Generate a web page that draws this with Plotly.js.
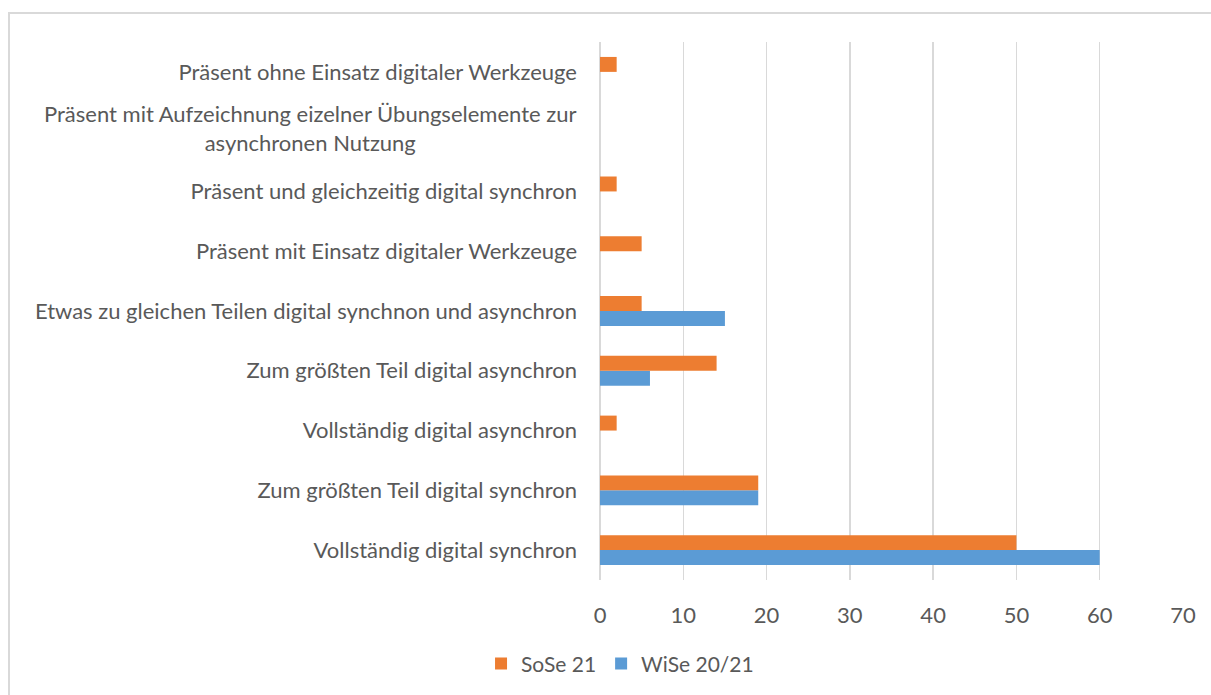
<!DOCTYPE html>
<html>
<head>
<meta charset="utf-8">
<script src="https://cdn.plot.ly/plotly-3.0.1.min.js"></script>
<style>
  html, body { margin: 0; padding: 0; background: #fff; }
  #frame { position: absolute; left: 8px; top: 12px; width: 1260px; height: 760px; border: 2px solid #d9d9d9; box-sizing: border-box; }
  #chart { position: absolute; left: 0; top: 0; width: 1211px; height: 695px; }
</style>
</head>
<body>
<div id="frame"></div>
<div id="chart"></div>
<script>
const categories = [
  "Vollständig digital synchron",
  "Zum größten Teil digital synchron",
  "Vollständig digital asynchron",
  "Zum größten Teil digital asynchron",
  "Etwas zu gleichen Teilen digital synchnon und asynchron",
  "Präsent mit Einsatz digitaler Werkzeuge",
  "Präsent und gleichzeitig digital synchron",
  "Präsent mit Aufzeichnung eizelner Übungselemente zur asynchronen Nutzung",
  "Präsent ohne Einsatz digitaler Werkzeuge"
];
// label lines as shown in the chart (the long one wraps onto two centred lines)
const wrappedLabel = "Präsent mit Aufzeichnung eizelner Übungselemente zur<br>asynchronen Nutzung";
const wrappedIndex = 7;
const sose21 = [50, 19, 2, 14, 5, 5, 2, 0, 2];
const wise2021 = [60, 19, 0, 6, 15, 0, 0, 0, 0];
const xTicks = [0, 10, 20, 30, 40, 50, 60, 70];

const font = "Lato, 'Open Sans', sans-serif";
const grey = "#595959";
const fsize = 22;

const tickText = categories.map((c, i) => i === wrappedIndex ? "" : c);

const data = [
  { type: "bar", orientation: "h", name: "WiSe 20/21", y: categories, x: wise2021,
    marker: { color: "#5B9BD5" }, hoverinfo: "x+name" },
  { type: "bar", orientation: "h", name: "SoSe 21", y: categories, x: sose21,
    marker: { color: "#ED7D31" }, hoverinfo: "x+name" }
];

const layout = {
  width: 1211, height: 695,
  paper_bgcolor: "rgba(0,0,0,0)", plot_bgcolor: "rgba(0,0,0,0)",
  margin: { l: 600, r: 28, t: 42, b: 115 },
  barmode: "group", bargap: 0.5, bargroupgap: 0,
  font: { family: font, size: fsize, color: grey },
  xaxis: {
    range: [0, 70], tickvals: xTicks, ticktext: xTicks.map(String),
    showgrid: true, gridcolor: "#d9d9d9", gridwidth: 1.5,
    zeroline: true, zerolinecolor: "#d9d9d9", zerolinewidth: 1.5,
    showline: false, ticks: "", ticklabelstandoff: 20,
    tickfont: { family: font, size: fsize, color: grey }, fixedrange: true
  },
  yaxis: {
    type: "category", categoryorder: "array", categoryarray: categories,
    tickmode: "array", tickvals: categories, ticktext: tickText,
    showgrid: false, zeroline: false, showline: false, ticks: "",
    ticklabelstandoff: 22,
    tickfont: { family: font, size: fsize, color: grey }, fixedrange: true
  },
  annotations: [{
    xref: "paper", yref: "y", x: 0, y: categories[wrappedIndex],
    xanchor: "right", yanchor: "middle", xshift: -22, yshift: 4,
    text: wrappedLabel, align: "center", showarrow: false,
    font: { family: font, size: fsize, color: grey }
  }],
  showlegend: true,
  legend: {
    orientation: "h", traceorder: "reversed",
    xref: "container", yref: "container",
    x: 0.512, xanchor: "center", y: 0.045, yanchor: "middle",
    font: { family: font, size: 21, color: grey },
    itemwidth: 30, bgcolor: "rgba(0,0,0,0)"
  }
};

Plotly.newPlot("chart", data, layout, { displayModeBar: false, staticPlot: true });
</script>
</body>
</html>
